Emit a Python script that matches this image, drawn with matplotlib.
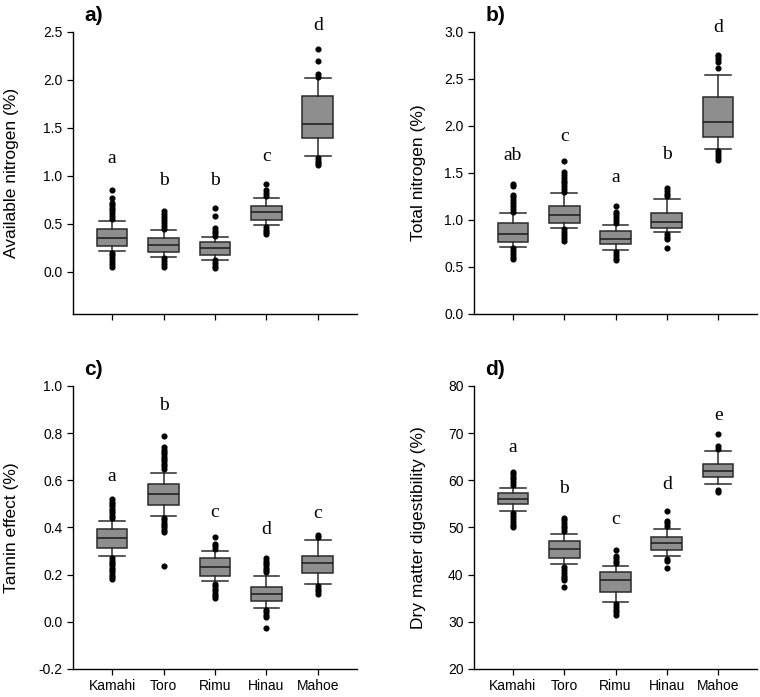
import matplotlib
matplotlib.use("Agg")
import matplotlib.pyplot as plt

plt.rcParams['font.family'] = ['Liberation Sans', 'DejaVu Sans']

species = ["Kamahi", "Toro", "Rimu", "Hinau", "Mahoe"]

# a) available nitrogen
an_q1 = [0.267, 0.208, 0.170, 0.535, 1.396]
an_med = [0.354, 0.278, 0.250, 0.622, 1.542]
an_q3 = [0.448, 0.354, 0.309, 0.681, 1.830]
an_lo = [0.219, 0.156, 0.128, 0.483, 1.212]
an_hi = [0.531, 0.437, 0.361, 0.771, 2.017]
an_fliers = [
    [0.55, 0.58, 0.61, 0.64, 0.67, 0.70, 0.72, 0.77, 0.85, 0.20, 0.17, 0.14, 0.11, 0.08, 0.05],
    [0.45, 0.48, 0.51, 0.54, 0.57, 0.60, 0.63, 0.14, 0.11, 0.08, 0.05],
    [0.37, 0.40, 0.43, 0.46, 0.58, 0.67, 0.12, 0.09, 0.06, 0.04],
    [0.79, 0.82, 0.85, 0.92, 0.47, 0.44, 0.41, 0.39],
    [2.03, 2.06, 2.20, 2.32, 1.19, 1.16, 1.13, 1.11],
]
an_letters = ["a", "b", "b", "c", "d"]
an_letter_y = [1.18, 0.955, 0.955, 1.20, 2.57]

# b) total nitrogen
tn_q1 = [0.764, 0.966, 0.743, 0.913, 1.886]
tn_med = [0.849, 1.058, 0.803, 0.983, 2.041]
tn_q3 = [0.973, 1.153, 0.881, 1.072, 2.310]
tn_lo = [0.715, 0.913, 0.679, 0.867, 1.755]
tn_hi = [1.072, 1.284, 0.948, 1.224, 2.540]
tn_fliers = [
    [1.09, 1.12, 1.15, 1.18, 1.21, 1.24, 1.27, 1.36, 1.38, 0.70, 0.67, 0.64, 0.61, 0.58],
    [1.30, 1.33, 1.36, 1.39, 1.42, 1.45, 1.48, 1.51, 1.63, 0.90, 0.87, 0.84, 0.81, 0.78],
    [0.97, 1.00, 1.03, 1.06, 1.09, 1.15, 0.66, 0.63, 0.60, 0.57],
    [1.25, 1.28, 1.31, 1.34, 0.85, 0.82, 0.80, 0.70],
    [2.62, 2.68, 2.71, 2.74, 2.76, 1.73, 1.70, 1.67, 1.64],
]
tn_letters = ["ab", "c", "a", "b", "d"]
tn_letter_y = [1.69, 1.89, 1.45, 1.70, 3.05]

# c) tannin effect
te_q1 = [0.314, 0.495, 0.195, 0.090, 0.206]
te_med = [0.355, 0.543, 0.232, 0.120, 0.251]
te_q3 = [0.394, 0.585, 0.270, 0.147, 0.277]
te_lo = [0.280, 0.449, 0.171, 0.059, 0.161]
te_hi = [0.428, 0.633, 0.300, 0.195, 0.347]
te_fliers = [
    [0.44, 0.45, 0.46, 0.47, 0.48, 0.49, 0.50, 0.51, 0.52,
     0.27, 0.26, 0.25, 0.24, 0.23, 0.22, 0.21, 0.20, 0.19, 0.18],
    [0.65, 0.66, 0.67, 0.68, 0.69, 0.70, 0.71, 0.72, 0.73, 0.74, 0.79,
     0.44, 0.43, 0.42, 0.41, 0.40, 0.39, 0.38, 0.235],
    [0.31, 0.32, 0.33, 0.36, 0.16, 0.15, 0.14, 0.13, 0.12, 0.11, 0.10],
    [0.21, 0.22, 0.23, 0.24, 0.25, 0.26, 0.27, 0.05, 0.04, 0.03, 0.02, -0.025],
    [0.36, 0.37, 0.15, 0.14, 0.13, 0.12],
]
te_letters = ["a", "b", "c", "d", "c"]
te_letter_y = [0.615, 0.918, 0.462, 0.39, 0.459]

# d) dry matter digestibility
dm_q1 = [54.9, 43.6, 36.3, 45.2, 60.7]
dm_med = [56.1, 45.4, 38.8, 46.8, 62.0]
dm_q3 = [57.4, 47.2, 40.5, 48.0, 63.5]
dm_lo = [53.6, 42.2, 34.3, 43.9, 59.3]
dm_hi = [58.4, 48.7, 41.8, 49.7, 66.2]
dm_fliers = [
    [59.0, 59.6, 60.2, 60.8, 61.4, 61.8, 53.0, 52.4, 51.8, 51.2, 50.6, 50.2],
    [49.2, 49.8, 50.4, 51.0, 51.6, 52.0, 41.6, 41.0, 40.4, 39.8, 39.2, 38.8, 37.3],
    [42.4, 43.0, 43.6, 44.0, 45.2, 33.8, 33.2, 32.6, 32.0, 31.4],
    [50.3, 50.9, 51.3, 53.4, 43.4, 42.8, 41.5],
    [66.7, 67.3, 69.9, 58.0, 57.5],
]
dm_letters = ["a", "b", "c", "d", "e"]
dm_letter_y = [66.9, 58.3, 51.6, 59.2, 73.8]


def draw_panel(ax, q1, med, q3, lo, hi, fliers, letters, letter_y,
               ylabel, ylim, yticks, fmt, tag, show_x, label_x):
    stats = []
    for i in range(len(species)):
        stats.append(dict(q1=q1[i], med=med[i], q3=q3[i], whislo=lo[i],
                          whishi=hi[i], fliers=fliers[i], label=species[i]))
    ax.bxp(stats, positions=range(1, 6), widths=0.6, patch_artist=True,
           showcaps=True, capwidths=0.5,
           boxprops=dict(facecolor="#8e8e8e", edgecolor="#2a2a2a", linewidth=1.1),
           medianprops=dict(color="#1a1a1a", linewidth=1.1),
           whiskerprops=dict(color="#2a2a2a", linewidth=1.1),
           capprops=dict(color="#2a2a2a", linewidth=1.1),
           flierprops=dict(marker="o", markersize=3.4, markerfacecolor="black",
                           markeredgecolor="black", linestyle="none"))
    for i, (t, y) in enumerate(zip(letters, letter_y)):
        ax.text(i + 1, y, t, ha="center", va="center", fontsize=14,
                family="Liberation Serif", clip_on=False)
    ax.set_xlim(0.24, 5.76)
    ax.set_ylim(*ylim)
    ax.set_yticks(yticks)
    ax.set_yticklabels([fmt % v for v in yticks])
    ax.set_xticks(range(1, 6))
    if show_x:
        ax.set_xticklabels(species)
    else:
        ax.set_xticklabels([])
    ax.spines["top"].set_visible(False)
    ax.spines["right"].set_visible(False)
    for s in ("left", "bottom"):
        ax.spines[s].set_linewidth(1.0)
    ax.tick_params(direction="out", length=4.5, width=0.9, labelsize=10, pad=3)
    ax.set_ylabel(ylabel, fontsize=12.5)
    ax.yaxis.set_label_coords(label_x, 0.5)
    ax.text(0.04, 1.06, tag, transform=ax.transAxes, fontsize=15,
            fontweight="bold", ha="left", va="center")


fig = plt.figure(figsize=(7.6, 6.97), dpi=100)
ax_a = fig.add_axes([0.096, 0.5495, 0.3737, 0.4046])
ax_b = fig.add_axes([0.6237, 0.5495, 0.3724, 0.4046])
ax_c = fig.add_axes([0.096, 0.0402, 0.3737, 0.406])
ax_d = fig.add_axes([0.6237, 0.0402, 0.3724, 0.406])

draw_panel(ax_a, an_q1, an_med, an_q3, an_lo, an_hi, an_fliers, an_letters,
           an_letter_y, "Available nitrogen (%)", (-0.44, 2.5),
           [0.0, 0.5, 1.0, 1.5, 2.0, 2.5], "%.1f", "a)", False, -0.19)
draw_panel(ax_b, tn_q1, tn_med, tn_q3, tn_lo, tn_hi, tn_fliers, tn_letters,
           tn_letter_y, "Total nitrogen (%)", (0.0, 3.0),
           [0.0, 0.5, 1.0, 1.5, 2.0, 2.5, 3.0], "%.1f", "b)", False, -0.168)
draw_panel(ax_c, te_q1, te_med, te_q3, te_lo, te_hi, te_fliers, te_letters,
           te_letter_y, "Tannin effect (%)", (-0.2, 1.0),
           [-0.2, 0.0, 0.2, 0.4, 0.6, 0.8, 1.0], "%.1f", "c)", True, -0.19)
draw_panel(ax_d, dm_q1, dm_med, dm_q3, dm_lo, dm_hi, dm_fliers, dm_letters,
           dm_letter_y, "Dry matter digestibility (%)", (20, 80),
           [20, 30, 40, 50, 60, 70, 80], "%d", "d)", True, -0.168)

fig.savefig("out.png", dpi=100)
